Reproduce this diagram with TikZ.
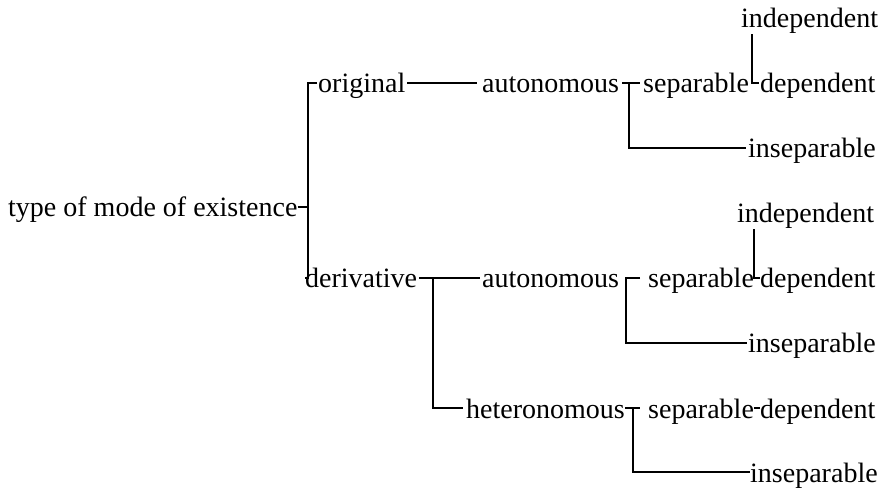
\documentclass[tikz,border=0pt]{standalone}
\usepackage{fontspec}
\setmainfont{Liberation Serif}
\begin{document}
\begin{tikzpicture}[x=1bp,y=-1bp,
  lbl/.style={anchor=base west,inner sep=0pt,font=\fontsize{28bp}{34bp}\selectfont},
  link/.style={line width=1.9bp}]
\useasboundingbox (0,0) rectangle (883,488);

% labels
\node[lbl] (root)  at (8,217)   {type of mode of existence};
\node[lbl] (orig)  at (318,93)  {original};
\node[lbl] (autA)  at (482,93)  {autonomous};
\node[lbl] (sepA)  at (643,93)  {separable};
\node[lbl] (indA)  at (741,28)  {independent};
\node[lbl] (depA)  at (760,93)  {dependent};
\node[lbl] (insA)  at (748,158) {inseparable};
\node[lbl] (deriv) at (305,288) {derivative};
\node[lbl] (autB)  at (482,288) {autonomous};
\node[lbl] (sepB)  at (648,288) {separable};
\node[lbl] (indB)  at (737,223) {independent};
\node[lbl] (depB)  at (760,288) {dependent};
\node[lbl] (insB)  at (748,353) {inseparable};
\node[lbl] (het)   at (466,418) {heteronomous};
\node[lbl] (sepC)  at (648,418) {separable};
\node[lbl] (depC)  at (760,418) {dependent};
\node[lbl] (insC)  at (750,482) {inseparable};

% root bracket
\coordinate (rootJ) at ([xshift=10bp,yshift=10bp]root.base east);
\draw[link] ([yshift=10bp]root.base east) -- (rootJ);
\draw[link] ([xshift=-1bp,yshift=10bp]orig.base west) -| (rootJ) |- ([yshift=10bp]deriv.base west);

% original branch
\draw[link] ([xshift=2bp,yshift=10bp]orig.base east) -- ([xshift=-5bp,yshift=10bp]autA.base west);
\coordinate (tA) at ([xshift=10bp,yshift=10bp]autA.base east);
\draw[link] ([xshift=3bp,yshift=10bp]autA.base east) -- ([xshift=-3bp,yshift=10bp]sepA.base west);
\draw[link] (tA) |- ([xshift=-2bp,yshift=10bp]insA.base west);
\coordinate (jA) at ([xshift=-8bp,yshift=10bp]depA.base west);
\draw[link] (jA |- indA.south) -- (jA) -- ([xshift=-1bp,yshift=10bp]depA.base west);

% derivative branch
\draw[link] ([xshift=2bp,yshift=10bp]deriv.base east) -- ([xshift=-2bp,yshift=10bp]autB.base west);
\coordinate (tD) at ([xshift=16bp,yshift=10bp]deriv.base east);
\draw[link] (tD) |- ([xshift=-3bp,yshift=10bp]het.base west);

\coordinate (tB) at ([xshift=7bp,yshift=10bp]autB.base east);
\draw[link] ([xshift=-8bp,yshift=10bp]sepB.base west) -| (tB) |- ([xshift=-1bp,yshift=10bp]insB.base west);
\coordinate (jB) at ([xshift=-6bp,yshift=10bp]depB.base west);
\draw[link] (jB |- indB.south) -- (jB) -- ([yshift=10bp]depB.base west);

\coordinate (tC) at ([xshift=8bp,yshift=10bp]het.base east);
\draw[link] ([yshift=10bp]het.base east) -- ([xshift=-8bp,yshift=10bp]sepC.base west);
\draw[link] (tC) |- ([yshift=10bp]insC.base west);
\draw[link] ([yshift=10bp]sepC.base east) -- ([yshift=10bp]depC.base west);
\end{tikzpicture}
\end{document}
